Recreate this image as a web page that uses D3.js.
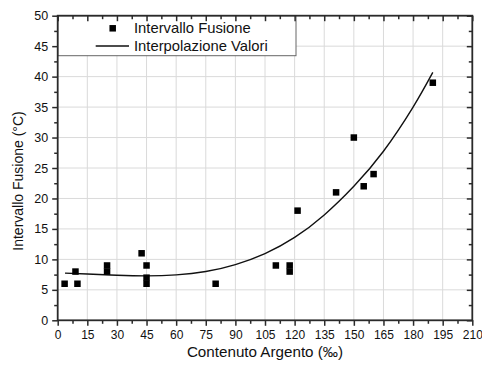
<!DOCTYPE html>
<html>
<head>
<meta charset="utf-8">
<script src="https://cdn.jsdelivr.net/npm/d3@7/dist/d3.min.js"></script>
<style>
  html, body { margin: 0; padding: 0; background: #fff; }
  svg { display: block; font-family: "Liberation Sans", Arial, sans-serif; }
</style>
</head>
<body>
<svg id="chart" width="482" height="365"></svg>
<script>
// Measured melting intervals vs. silver content
const silverContent = [3.5, 9, 10, 25, 25, 42.5, 45, 45, 45, 80, 110.5, 117.5, 117.5, 121.5, 141, 150, 155, 160, 190];
const meltingRange  = [6, 8, 6, 9, 8, 11, 9, 7, 6, 6, 9, 9, 8, 18, 21, 30, 22, 24, 39];

// Interpolation curve sampled along its length
const curveX = [3.7, 15, 30, 45, 60, 75, 90, 105, 120, 135, 150, 165, 180, 190];
const curveY = [7.75, 7.6, 7.4, 7.3, 7.45, 8.0, 9.15, 10.95, 13.6, 17.3, 22.0, 27.75, 35.0, 40.7];

const xTicks = d3.range(0, 211, 15);
const yTicks = d3.range(0, 51, 5);
const legendLabels = ["Intervallo Fusione", "Interpolazione Valori"];
const xTitle = "Contenuto Argento (\u2030)";
const yTitle = "Intervallo Fusione (\u00B0C)";

const svg = d3.select("#chart");
const plotL = 57.7, plotR = 472.3, plotT = 15.7, plotB = 320.3;

const x = d3.scaleLinear().domain([0, 210]).range([plotL, plotR]);
const y = d3.scaleLinear().domain([0, 50]).range([plotB, plotT]);

const axisColor = "#2a2a2a";

// grid
const grid = svg.append("g");
grid.selectAll("line.vx").data(xTicks.slice(1, -1)).join("line")
  .attr("x1", d => x(d)).attr("x2", d => x(d))
  .attr("y1", plotT).attr("y2", plotB)
  .attr("stroke", "#dadada").attr("stroke-width", 1);
grid.selectAll("line.hy").data(yTicks.slice(1, -1)).join("line")
  .attr("x1", plotL).attr("x2", plotR)
  .attr("y1", d => y(d)).attr("y2", d => y(d))
  .attr("stroke", "#dadada").attr("stroke-width", 1);

// curve
const line = d3.line().x(d => x(d[0])).y(d => y(d[1])).curve(d3.curveNatural);
svg.append("path")
  .datum(curveX.map((v, i) => [v, curveY[i]]))
  .attr("d", line)
  .attr("fill", "none").attr("stroke", "#111").attr("stroke-width", 1.4);

// points
const sq = 6.5;
svg.append("g").selectAll("rect").data(silverContent.map((v, i) => [v, meltingRange[i]])).join("rect")
  .attr("x", d => x(d[0]) - sq / 2).attr("y", d => y(d[1]) - sq / 2)
  .attr("width", sq).attr("height", sq).attr("fill", "#000");

// legend
const lg = svg.append("g");
lg.append("rect").attr("x", plotL).attr("y", plotT).attr("width", 296 - plotL).attr("height", 55.7 - plotT)
  .attr("fill", "#fff").attr("stroke", "#666").attr("stroke-width", 1);
lg.append("rect").attr("x", 112.7 - sq / 2).attr("y", 28.3 - sq / 2).attr("width", sq).attr("height", sq).attr("fill", "#000");
lg.append("line").attr("x1", 95.7).attr("x2", 129).attr("y1", 46).attr("y2", 46)
  .attr("stroke", "#111").attr("stroke-width", 1.4);
lg.selectAll("text").data(legendLabels).join("text")
  .attr("x", 134).attr("y", (d, i) => 33.4 + i * 18)
  .attr("font-size", 14.8).attr("fill", "#111").text(d => d);

// axes
const tickLen = 5.5, minorLen = 3.5;
const xMinor = d3.range(7.5, 210, 15);
const yMinor = d3.range(2.5, 50, 5);

const xAxisB = d3.axisBottom(x).tickValues(xTicks).tickSize(tickLen).tickPadding(5).tickFormat(d3.format("d"));
const xAxisBMinor = d3.axisBottom(x).tickValues(xMinor).tickSize(minorLen).tickFormat("");
const yAxisL = d3.axisLeft(y).tickValues(yTicks).tickSize(tickLen).tickPadding(4).tickFormat(d3.format("d"));
const yAxisLMinor = d3.axisLeft(y).tickValues(yMinor).tickSize(minorLen).tickFormat("");
const xAxisT = d3.axisBottom(x).tickValues(xTicks).tickSize(tickLen).tickFormat("");
const xAxisTMinor = d3.axisBottom(x).tickValues(xMinor).tickSize(minorLen).tickFormat("");
const yAxisR = d3.axisLeft(y).tickValues(yTicks).tickSize(tickLen).tickFormat("");
const yAxisRMinor = d3.axisLeft(y).tickValues(yMinor).tickSize(minorLen).tickFormat("");

function style(fs) {
  return g => {
    g.select(".domain").remove();
    g.selectAll(".tick line").attr("stroke", axisColor).attr("stroke-width", 1.5);
    g.selectAll("text").attr("fill", "#111").attr("font-size", fs)
      .attr("font-family", "'Liberation Sans', Arial, sans-serif");
  };
}
svg.append("g").attr("transform", `translate(0,${plotB})`).call(xAxisB).call(style(12));
svg.append("g").attr("transform", `translate(0,${plotB})`).call(xAxisBMinor).call(style(12));
svg.append("g").attr("transform", `translate(${plotL},0)`).call(yAxisL).call(style(12.5));
svg.append("g").attr("transform", `translate(${plotL},0)`).call(yAxisLMinor).call(style(12));
svg.append("g").attr("transform", `translate(0,${plotT})`).call(xAxisT).call(style(12));
svg.append("g").attr("transform", `translate(0,${plotT})`).call(xAxisTMinor).call(style(12));
svg.append("g").attr("transform", `translate(${plotR},0)`).call(yAxisR).call(style(12));
svg.append("g").attr("transform", `translate(${plotR},0)`).call(yAxisRMinor).call(style(12));

// frame
svg.append("rect").attr("x", plotL).attr("y", plotT).attr("width", plotR - plotL).attr("height", plotB - plotT)
  .attr("fill", "none").attr("stroke", axisColor).attr("stroke-width", 1.8);

// titles
svg.append("text").attr("x", (plotL + plotR) / 2).attr("y", 357)
  .attr("text-anchor", "middle").attr("font-size", 15.2).attr("fill", "#111").text(xTitle);
svg.append("text").attr("transform", "translate(23,181) rotate(-90)")
  .attr("text-anchor", "middle").attr("font-size", 14).attr("fill", "#111").text(yTitle);
</script>
</body>
</html>
